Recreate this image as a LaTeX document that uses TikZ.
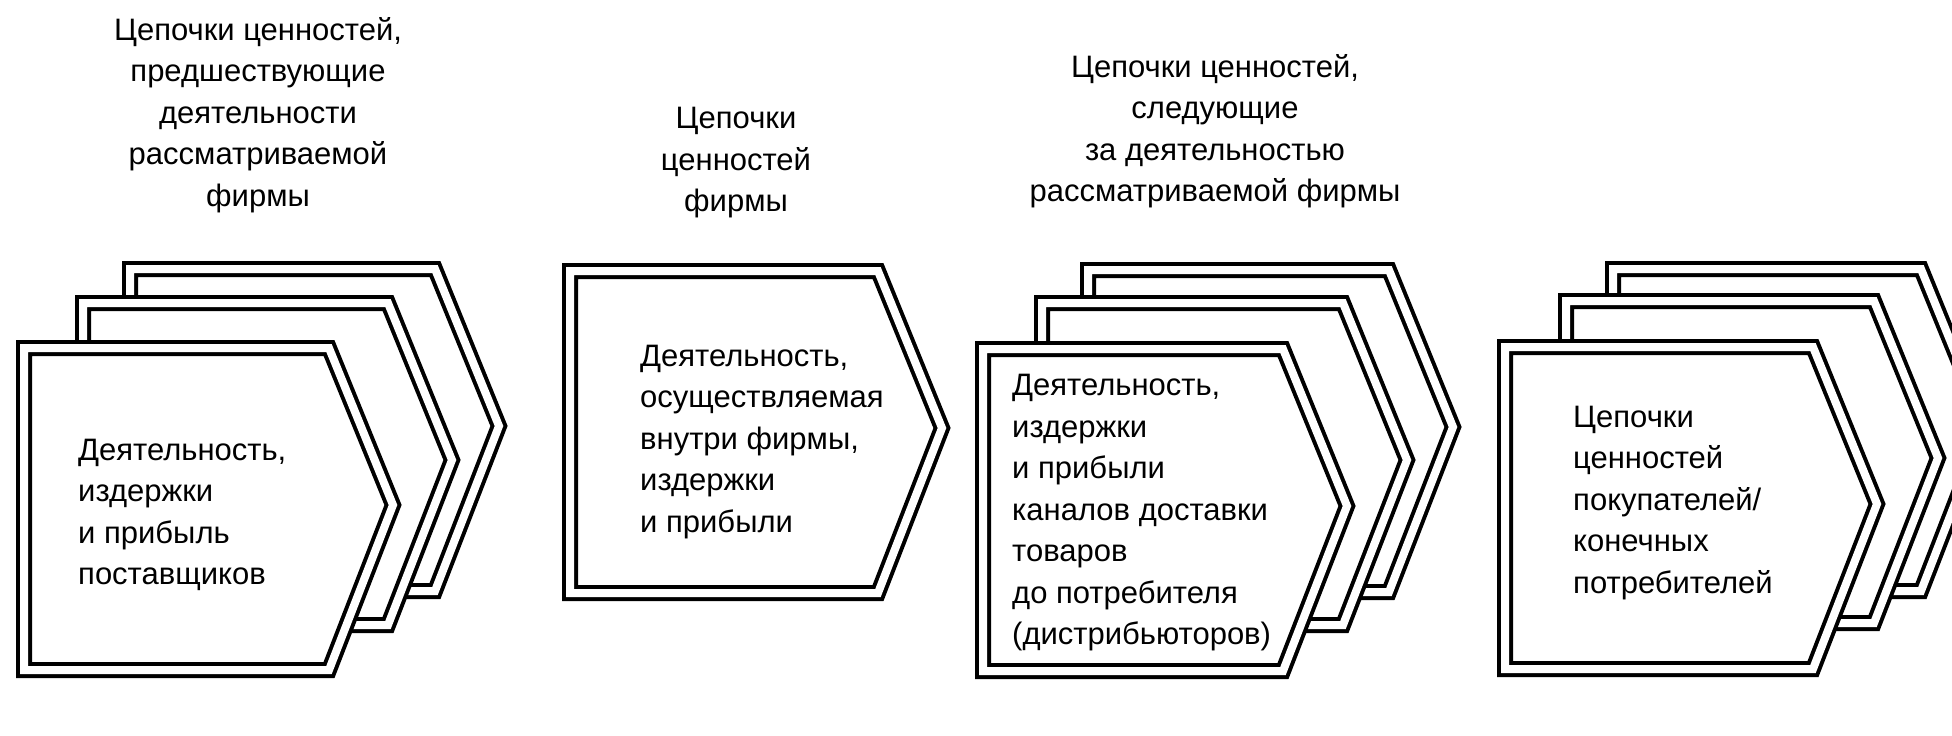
\documentclass[tikz,border=0pt]{standalone}
\usepackage{fontspec}
\setmainfont{Liberation Sans}
\tikzset{
  chev/.style={fill=white, draw=black, line width=4pt, double=white, double distance=8pt, line join=miter},
  boxtext/.style={font=\fontsize{31}{41.5}\selectfont, align=left, anchor=west, inner sep=0pt},
  headtext/.style={font=\fontsize{31}{41.5}\selectfont, align=center, anchor=center, inner sep=0pt}
}
\newcommand\chevshape[3]{%
  \draw[chev] (#1,#2) -- ++(#3,0) -- ++(64,157) -- ++(-64,165) -- ++(-#3,0) -- cycle;}
\begin{document}
\begin{tikzpicture}[x=1pt,y=-1pt]
\useasboundingbox (0,0) rectangle (1952,736);
\clip (0,0) rectangle (1952,736);
\fill[white] (0,0) rectangle (1952,736);
% group 1
\chevshape{130}{269}{305}
\chevshape{83}{303}{305}
\chevshape{24}{348}{305}
% group 2
\chevshape{570}{271}{308}
% group 3
\chevshape{1088}{270}{301}
\chevshape{1042}{303}{301}
\chevshape{983}{349}{300}
% group 4
\chevshape{1613}{269}{308}
\chevshape{1566}{301}{308}
\chevshape{1505}{347}{308}
% headers
\node[headtext] (h1) at (258,115) {Цепочки ценностей,\\предшествующие\\деятельности\\рассматриваемой\\фирмы};
\node[headtext] (h2) at (736,163) {Цепочки\\ценностей\\фирмы};
\node[headtext] (h3) at (1215,131) {Цепочки ценностей,\\следующие\\за деятельностью\\рассматриваемой фирмы};
% box texts
\node[boxtext] (t1) at (78,515) {Деятельность,\\издержки\\и прибыль\\поставщиков};
\node[boxtext] (t2) at (640,442) {Деятельность,\\осуществляемая\\внутри фирмы,\\издержки\\и прибыли};
\node[boxtext] (t3) at (1012,513) {Деятельность,\\издержки\\и прибыли\\каналов доставки\\товаров\\до потребителя\\(дистрибьюторов)};
\node[boxtext] (t4) at (1573,503) {Цепочки\\ценностей\\покупателей/\\конечных\\потребителей};
\end{tikzpicture}
\end{document}
